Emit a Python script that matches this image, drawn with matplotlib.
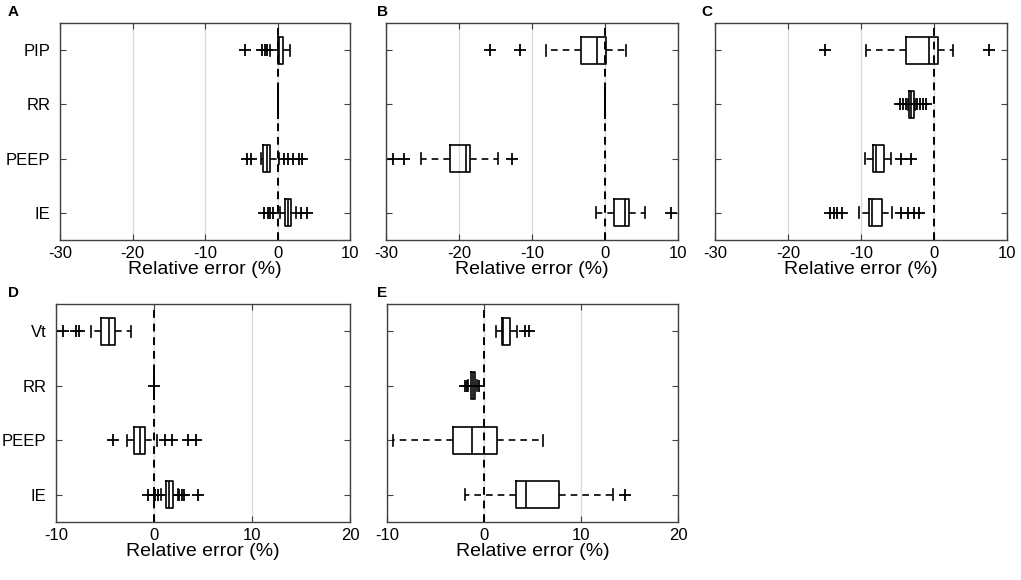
import matplotlib
matplotlib.use('Agg')
import matplotlib.pyplot as plt

plt.rcParams['font.family'] = ['Liberation Sans', 'DejaVu Sans']

# ---- data (relative error, %) ----
labels_abc = ['PIP', 'RR', 'PEEP', 'IE']
labels_de = ['Vt', 'RR', 'PEEP', 'IE']

A_q1 = [0.0, 0.0, -2.0, 1.0]
A_med = [0.2, 0.0, -1.5, 1.4]
A_q3 = [0.8, 0.0, -1.0, 1.9]
A_lo = [-1.0, 0.0, -2.3, 0.3]
A_hi = [1.7, 0.0, 0.2, 2.6]
A_out = [[-4.5, -2.2, -1.7, -1.4], [],
         [-4.2, -3.6, 0.9, 1.5, 2.2, 2.9, 3.4],
         [-1.9, -1.3, -1.0, -0.6, 3.3, 4.0]]

B_q1 = [-3.3, 0.0, -21.2, 1.2]
B_med = [-1.1, 0.0, -19.0, 2.8]
B_q3 = [0.1, 0.0, -18.5, 3.3]
B_lo = [-8.1, 0.0, -25.2, -1.2]
B_hi = [2.9, 0.0, -14.7, 5.5]
B_out = [[-15.8, -11.7], [], [-29.0, -27.5, -12.7], [9.0]]

C_q1 = [-3.8, -3.4, -8.4, -8.9]
C_med = [-0.7, -3.1, -8.0, -8.5]
C_q3 = [0.5, -2.8, -6.8, -7.1]
C_lo = [-9.3, -3.6, -9.5, -10.3]
C_hi = [2.6, -2.6, -5.9, -5.7]
C_out = [[-15.0, 7.6],
         [-4.6, -4.2, -3.9, -2.3, -1.9, -1.5, -1.1],
         [-4.5, -3.2],
         [-14.2, -13.7, -13.3, -12.6, -4.5, -3.6, -2.8, -2.0]]

D_q1 = [-5.4, 0.0, -2.0, 1.25]
D_med = [-4.6, 0.0, -1.45, 1.5]
D_q3 = [-4.0, 0.0, -0.95, 1.9]
D_lo = [-6.4, 0.0, -2.8, 0.75]
D_hi = [-2.3, 0.0, 0.3, 2.4]
D_out = [[-9.3, -8.0, -7.7], [0.0],
         [-4.2, 1.1, 1.8, 3.5, 4.3],
         [-0.6, 0.0, 0.15, 0.45, 2.6, 2.85, 3.1, 4.5]]

E_q1 = [1.9, -1.35, -3.2, 3.3]
E_med = [2.0, -1.1, -1.2, 4.3]
E_q3 = [2.7, -0.95, 1.3, 7.7]
E_lo = [1.25, -1.6, -9.4, -2.0]
E_hi = [3.4, -0.75, 6.1, 13.3]
E_out = [[4.2, 4.6], [-2.0, -1.8, -0.5], [], [14.5]]

panels = [
    ('A', labels_abc, A_q1, A_med, A_q3, A_lo, A_hi, A_out, (-30, 10), [-30, -20, -10, 0, 10]),
    ('B', None, B_q1, B_med, B_q3, B_lo, B_hi, B_out, (-30, 10), [-30, -20, -10, 0, 10]),
    ('C', None, C_q1, C_med, C_q3, C_lo, C_hi, C_out, (-30, 10), [-30, -20, -10, 0, 10]),
    ('D', labels_de, D_q1, D_med, D_q3, D_lo, D_hi, D_out, (-10, 20), [-10, 0, 10, 20]),
    ('E', None, E_q1, E_med, E_q3, E_lo, E_hi, E_out, (-10, 20), [-10, 0, 10, 20]),
]

# axes rectangles in pixels (left, top, right, bottom) and letter x position
W, H = 1021, 580
rects = [(60, 23, 350, 240), (386, 23, 678, 240), (715, 23, 1007, 240),
         (56, 304, 350, 522), (387, 304, 678, 522)]
letter_x = [8, 377, 701, 8, 377]

fig = plt.figure(figsize=(W / 100, H / 100), dpi=100)
frame_col = '#404040'

for (name, labels, q1, med, q3, lo, hi, out, xlim, xt), (l, t, r, b), lx in zip(panels, rects, letter_x):
    ax = fig.add_axes([l / W, 1 - b / H, (r - l) / W, (b - t) / H])
    stats = []
    for i in range(4):
        stats.append(dict(q1=q1[i], med=med[i], q3=q3[i], whislo=lo[i],
                          whishi=hi[i], fliers=out[i]))
    ax.axvline(0, color='black', ls=(0, (4, 3)), lw=1.4, zorder=1)
    ax.bxp(stats, positions=[1, 2, 3, 4], vert=False, widths=0.5,
           capwidths=0.2, showfliers=True,
           boxprops=dict(color='black', lw=1.2),
           medianprops=dict(color='black', lw=1.2),
           whiskerprops=dict(color='black', lw=1.2, ls=(0, (4, 3))),
           capprops=dict(color='black', lw=1.2),
           flierprops=dict(marker='+', markersize=8.5, markeredgecolor='black',
                           markeredgewidth=1.3))
    ax.set_xlim(*xlim)
    ax.set_ylim(4.5, 0.5)
    ax.set_xticks(xt)
    ax.set_xticklabels([str(v) for v in xt])
    ax.set_yticks([1, 2, 3, 4])
    if labels is not None:
        ax.set_yticklabels(labels)
    else:
        ax.set_yticklabels([])
    ax.xaxis.grid(True, color='#dcdcdc', lw=1)
    ax.set_axisbelow(True)
    ax.tick_params(direction='in', top=True, right=True, length=4,
                   color=frame_col, labelsize=12, pad=4)
    ax.tick_params(axis='y', pad=7)
    for s in ax.spines.values():
        s.set_color(frame_col)
        s.set_linewidth(1.0)
    ax.set_xlabel('Relative error (%)', fontsize=14, labelpad=0)
    fig.text(lx / W, 1 - (t - 11) / H, name, fontsize=11,
             fontweight='bold', va='center', ha='left')

fig.savefig('out.png', dpi=100)
